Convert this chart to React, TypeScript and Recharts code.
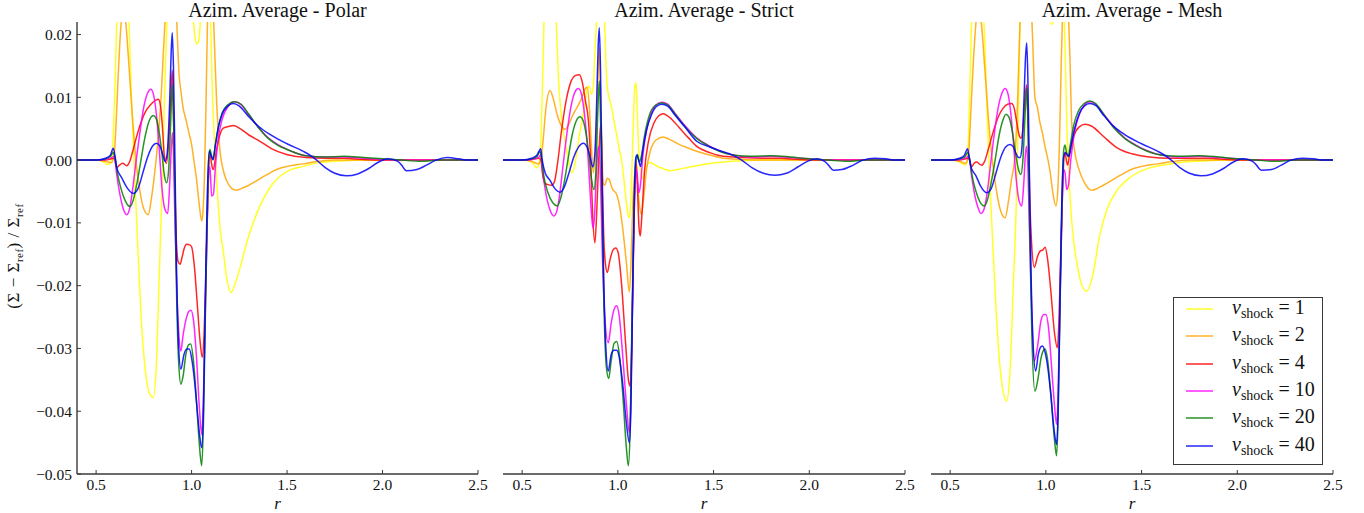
import React from 'react';
import { LineChart, Line, XAxis, YAxis, Legend } from 'recharts';

type Pt = [number, number];

const R_TICKS = [0.5, 1.0, 1.5, 2.0, 2.5];
const V_TICKS = [-0.05, -0.04, -0.03, -0.02, -0.01, 0, 0.01, 0.02];
const R_DOMAIN: [number, number] = [0.4, 2.5];
const V_DOMAIN: [number, number] = [-0.05, 0.022];
const NU = [1, 2, 4, 10, 20, 40];
const COLORS = ['#ffff00', '#ffa500', '#ff0000', '#ff00ff', '#008000', '#0000ff'];
const TITLES = ['Azim. Average - Polar', 'Azim. Average - Strict', 'Azim. Average - Mesh'];

// ---------------- Polar ----------------
const POLAR_NU1: Pt[] = [[0.4,0],[0.5,0],[0.54,-0.0003],[0.56,-0.0007],[0.575,-0.0005],[0.59,0.004],[0.6,0.013],[0.61,0.024],[0.63,0.034],[0.65,0.034],[0.67,0.024],[0.685,0.01],[0.7,-0.001],[0.72,-0.015],[0.74,-0.027],[0.76,-0.034],[0.78,-0.0372],[0.8,-0.0378],[0.815,-0.033],[0.83,-0.019],[0.845,-0.005],[0.86,0.012],[0.875,0.026],[0.9,0.035],[0.95,0.035],[0.99,0.03],[1.01,0.022],[1.02,0.0192],[1.03,0.0185],[1.04,0.0195],[1.05,0.024],[1.07,0.032],[1.09,0.03],[1.098,0.024],[1.108,0.012],[1.12,0.003],[1.135,-0.005],[1.15,-0.011],[1.166,-0.0145],[1.185,-0.019],[1.206,-0.0211],[1.23,-0.0195],[1.26,-0.0165],[1.29,-0.013],[1.34,-0.0086],[1.41,-0.0044],[1.5,-0.0018],[1.585,-0.001],[1.67,-0.0004],[1.8,-0.0001],[1.9,0],[2.5,0]];
const POLAR_NU2: Pt[] = [[0.4,0],[0.5,0],[0.55,-0.0002],[0.58,-0.0004],[0.595,0.001],[0.605,0.006],[0.615,0.013],[0.625,0.019],[0.635,0.0228],[0.645,0.0235],[0.655,0.022],[0.67,0.016],[0.69,0.007],[0.71,-0.0005],[0.73,-0.005],[0.75,-0.0078],[0.773,-0.0087],[0.79,-0.006],[0.805,-0.0025],[0.817,0.0009],[0.83,0.0055],[0.843,0.0115],[0.852,0.017],[0.861,0.0221],[0.875,0.028],[0.9,0.032],[0.915,0.028],[0.925,0.02],[0.935,0.0135],[0.945,0.0108],[0.956,0.0083],[0.97,0.0065],[0.985,0.0045],[1.0,0.0025],[1.012,0.0],[1.027,-0.0033],[1.04,-0.007],[1.053,-0.0097],[1.06,-0.008],[1.068,-0.002],[1.075,0.008],[1.082,0.02],[1.09,0.03],[1.1,0.033],[1.11,0.028],[1.118,0.02],[1.131,0.0094],[1.149,0.0014],[1.165,-0.0015],[1.184,-0.0033],[1.21,-0.0045],[1.236,-0.0048],[1.27,-0.0044],[1.3,-0.004],[1.34,-0.0033],[1.39,-0.0024],[1.445,-0.0015],[1.5,-0.001],[1.585,-0.0006],[1.67,-0.0002],[1.75,0],[2.5,0]];
const POLAR_NU4: Pt[] = [[0.4,0],[0.5,0],[0.55,0],[0.58,0.0002],[0.595,0.0003],[0.608,-0.0012],[0.622,-0.0008],[0.64,-0.0005],[0.66,-0.0009],[0.675,-0.0003],[0.69,0.0012],[0.71,0.0035],[0.735,0.006],[0.76,0.0078],[0.785,0.0088],[0.81,0.0095],[0.826,0.0097],[0.838,0.0085],[0.848,0.005],[0.858,0.0005],[0.868,-0.0005],[0.878,0.002],[0.89,0.009],[0.899,0.0143],[0.905,0.008],[0.912,-0.004],[0.92,-0.0125],[0.93,-0.0162],[0.94,-0.0166],[0.95,-0.0155],[0.962,-0.014],[0.975,-0.0134],[0.99,-0.0135],[1.0,-0.0138],[1.015,-0.017],[1.03,-0.023],[1.045,-0.029],[1.056,-0.0314],[1.065,-0.028],[1.075,-0.018],[1.085,-0.006],[1.096,0.0014],[1.104,-0.0005],[1.114,-0.0015],[1.13,0.0015],[1.15,0.0042],[1.166,0.0051],[1.2,0.0054],[1.22,0.0055],[1.25,0.0051],[1.3,0.004],[1.358,0.003],[1.42,0.0018],[1.498,0.0009],[1.6,0.0004],[1.7,0.0003],[1.8,0.0003],[1.9,0.0001],[2.0,0],[2.5,0]];
const POLAR_NU10: Pt[] = [[0.4,0],[0.5,0],[0.55,0.0001],[0.58,0.0004],[0.595,0.0006],[0.608,-0.0023],[0.625,-0.0055],[0.645,-0.008],[0.66,-0.0087],[0.675,-0.0078],[0.69,-0.005],[0.71,0.0],[0.73,0.0045],[0.75,0.0085],[0.77,0.0107],[0.787,0.0113],[0.8,0.0105],[0.815,0.0075],[0.83,0.002],[0.845,-0.0045],[0.86,-0.0078],[0.875,-0.0085],[0.885,-0.004],[0.893,0.0015],[0.9,0.0044],[0.906,0.0],[0.913,-0.01],[0.922,-0.02],[0.932,-0.027],[0.944,-0.0304],[0.955,-0.028],[0.97,-0.0255],[0.985,-0.0241],[0.997,-0.0239],[1.01,-0.0255],[1.025,-0.031],[1.04,-0.039],[1.053,-0.0437],[1.062,-0.038],[1.072,-0.024],[1.082,-0.01],[1.09,-0.002],[1.096,-0.001],[1.105,-0.0057],[1.114,-0.0055],[1.125,-0.001],[1.14,0.0035],[1.16,0.0065],[1.19,0.0085],[1.225,0.0093],[1.26,0.0088],[1.3,0.0072],[1.35,0.0052],[1.4,0.0036],[1.45,0.0025],[1.5,0.0017],[1.55,0.0011],[1.6,0.0007],[1.7,0.0005],[1.8,0.0005],[1.9,0.0003],[2.0,0.0001],[2.1,0],[2.5,0]];
const POLAR_NU20: Pt[] = [[0.4,0],[0.5,0],[0.55,0.0002],[0.575,0.0006],[0.59,0.0012],[0.6,0.0002],[0.613,-0.0023],[0.63,-0.0045],[0.65,-0.0063],[0.677,-0.0074],[0.695,-0.0063],[0.715,-0.0035],[0.735,0.0],[0.755,0.0035],[0.775,0.006],[0.8,0.0071],[0.815,0.0066],[0.83,0.0045],[0.845,0.001],[0.858,-0.0025],[0.87,-0.0036],[0.88,-0.0015],[0.89,0.0055],[0.899,0.012],[0.906,0.006],[0.914,-0.008],[0.922,-0.022],[0.932,-0.032],[0.944,-0.0357],[0.955,-0.0345],[0.97,-0.031],[0.985,-0.0294],[0.995,-0.0293],[1.01,-0.032],[1.025,-0.038],[1.04,-0.045],[1.053,-0.0487],[1.062,-0.042],[1.072,-0.025],[1.082,-0.009],[1.09,0.0005],[1.096,0.0017],[1.104,0.0008],[1.112,0.0],[1.125,0.0025],[1.14,0.0052],[1.16,0.0075],[1.19,0.0088],[1.225,0.0093],[1.26,0.0089],[1.3,0.0073],[1.35,0.0052],[1.4,0.0035],[1.45,0.0024],[1.5,0.0017],[1.55,0.0011],[1.6,0.0007],[1.7,0.0005],[1.8,0.0006],[1.9,0.0004],[2.0,0.0002],[2.1,0],[2.2,-0.0002],[2.3,0],[2.5,0]];
const POLAR_NU40: Pt[] = [[0.4,0],[0.5,0],[0.55,0.0003],[0.575,0.0008],[0.59,0.0019],[0.6,0.0005],[0.608,-0.0012],[0.634,-0.0028],[0.66,-0.0043],[0.695,-0.0053],[0.72,-0.0045],[0.745,-0.002],[0.77,0.0005],[0.795,0.0022],[0.817,0.0027],[0.835,0.0022],[0.85,0.0008],[0.861,-0.0002],[0.872,0.001],[0.885,0.009],[0.893,0.017],[0.899,0.0203],[0.905,0.015],[0.912,0.002],[0.92,-0.015],[0.93,-0.028],[0.944,-0.0333],[0.96,-0.031],[0.975,-0.0301],[0.988,-0.0301],[1.0,-0.0315],[1.015,-0.035],[1.03,-0.04],[1.045,-0.0445],[1.053,-0.0458],[1.062,-0.04],[1.072,-0.022],[1.082,-0.006],[1.093,0.0014],[1.102,0.0007],[1.112,0.0001],[1.125,0.0025],[1.14,0.0052],[1.16,0.0073],[1.19,0.0086],[1.218,0.009],[1.25,0.0086],[1.3,0.0069],[1.35,0.0054],[1.41,0.0041],[1.5,0.0026],[1.585,0.0014],[1.62,0.0008],[1.655,0],[1.7,-0.0012],[1.75,-0.0021],[1.81,-0.0025],[1.87,-0.0022],[1.93,-0.0013],[1.98,-0.0003],[2.03,0.0002],[2.08,-0.0002],[2.1,-0.0008],[2.125,-0.0017],[2.18,-0.0015],[2.23,-0.0008],[2.28,0],[2.34,0.0004],[2.4,0.0002],[2.45,0],[2.5,0]];

// ---------------- Strict ----------------
const STRICT_NU1: Pt[] = [[0.4,0],[0.5,0],[0.55,-0.0003],[0.576,-0.0012],[0.59,-0.0005],[0.6,0.005],[0.608,0.014],[0.614,0.022],[0.625,0.03],[0.645,0.034],[0.665,0.03],[0.678,0.022],[0.69,0.013],[0.703,0.0075],[0.715,0.0046],[0.73,0.002],[0.745,-0.0005],[0.759,-0.002],[0.772,-0.0012],[0.787,0.0015],[0.802,0.0045],[0.815,0.0065],[0.828,0.009],[0.837,0.011],[0.849,0.0118],[0.863,0.0105],[0.872,0.012],[0.88,0.017],[0.889,0.0225],[0.9,0.03],[0.915,0.032],[0.928,0.025],[0.937,0.016],[0.945,0.0115],[0.956,0.0098],[0.968,0.0083],[0.98,0.0062],[0.994,0.004],[1.007,0.0018],[1.02,0.0],[1.032,-0.0032],[1.042,-0.006],[1.052,-0.0085],[1.06,-0.0092],[1.067,-0.007],[1.075,0.0],[1.083,0.008],[1.09,0.012],[1.095,0.0123],[1.1,0.009],[1.107,0.003],[1.115,-0.001],[1.128,-0.003],[1.145,-0.0012],[1.168,-0.0004],[1.2,-0.0009],[1.24,-0.0014],[1.272,-0.0017],[1.31,-0.0015],[1.36,-0.0012],[1.447,-0.0007],[1.55,-0.0003],[1.65,-0.0001],[1.75,0],[2.5,0]];
const STRICT_NU2: Pt[] = [[0.4,0],[0.5,0],[0.55,-0.0002],[0.585,-0.0006],[0.6,0.0005],[0.612,0.004],[0.625,0.0085],[0.646,0.0111],[0.665,0.0095],[0.685,0.007],[0.705,0.0055],[0.724,0.0049],[0.745,0.0058],[0.765,0.0072],[0.785,0.0083],[0.81,0.0098],[0.828,0.0113],[0.84,0.0116],[0.852,0.008],[0.862,0.002],[0.872,-0.002],[0.885,0.003],[0.895,0.012],[0.903,0.018],[0.91,0.01],[0.918,0.0],[0.926,-0.004],[0.933,-0.0039],[0.945,-0.0029],[0.955,-0.0031],[0.97,-0.0045],[0.994,-0.0055],[1.01,-0.0075],[1.029,-0.0118],[1.045,-0.0165],[1.06,-0.021],[1.068,-0.017],[1.077,-0.008],[1.088,-0.002],[1.098,-0.0023],[1.11,-0.0065],[1.123,-0.0087],[1.135,-0.006],[1.15,-0.0015],[1.17,0.0015],[1.2,0.0032],[1.237,0.0037],[1.27,0.0033],[1.32,0.0025],[1.37,0.0019],[1.412,0.0014],[1.48,0.0008],[1.55,0.0003],[1.65,0.0001],[1.75,0],[2.5,0]];
const STRICT_NU4: Pt[] = [[0.4,0],[0.5,0],[0.55,0.0001],[0.585,0.0003],[0.597,0.0001],[0.608,-0.0025],[0.62,-0.0037],[0.635,-0.0039],[0.654,-0.004],[0.668,-0.0035],[0.685,-0.0005],[0.705,0.0045],[0.73,0.0095],[0.755,0.0125],[0.78,0.0135],[0.799,0.0136],[0.815,0.0123],[0.83,0.0095],[0.846,0.0063],[0.858,0.0],[0.868,-0.0085],[0.88,-0.0132],[0.89,-0.008],[0.9,0.0],[0.907,0.0045],[0.912,0.0057],[0.918,-0.002],[0.926,-0.012],[0.935,-0.0165],[0.945,-0.0179],[0.958,-0.016],[0.975,-0.0143],[0.989,-0.014],[1.002,-0.0148],[1.02,-0.02],[1.04,-0.029],[1.055,-0.035],[1.064,-0.036],[1.072,-0.03],[1.08,-0.017],[1.088,-0.005],[1.095,0.0],[1.102,-0.004],[1.11,-0.0105],[1.117,-0.0121],[1.125,-0.009],[1.14,-0.0015],[1.16,0.003],[1.19,0.006],[1.215,0.0071],[1.237,0.0074],[1.27,0.0068],[1.32,0.0052],[1.37,0.0035],[1.412,0.0022],[1.48,0.0012],[1.55,0.0006],[1.65,0.0004],[1.75,0.0003],[1.85,0.0003],[1.95,0.0001],[2.05,0],[2.5,0]];
const STRICT_NU10: Pt[] = [[0.4,0],[0.5,0],[0.55,0.0001],[0.585,0.0004],[0.597,0.0008],[0.608,-0.002],[0.625,-0.0055],[0.645,-0.0079],[0.666,-0.0089],[0.682,-0.008],[0.698,-0.005],[0.715,-0.0005],[0.735,0.0045],[0.755,0.0085],[0.775,0.0108],[0.794,0.0114],[0.81,0.0105],[0.825,0.0075],[0.84,0.0025],[0.852,-0.0035],[0.862,-0.0085],[0.87,-0.0108],[0.878,-0.009],[0.888,-0.002],[0.897,0.0018],[0.903,0.0022],[0.91,-0.004],[0.918,-0.014],[0.93,-0.024],[0.95,-0.0291],[0.965,-0.026],[0.98,-0.0238],[0.994,-0.0232],[1.008,-0.025],[1.025,-0.031],[1.045,-0.039],[1.06,-0.0434],[1.068,-0.038],[1.076,-0.024],[1.085,-0.009],[1.094,-0.0015],[1.1,-0.002],[1.11,-0.0052],[1.118,-0.004],[1.13,0.0005],[1.15,0.0048],[1.175,0.0075],[1.2,0.0088],[1.23,0.0092],[1.26,0.0089],[1.3,0.0074],[1.35,0.0055],[1.41,0.0036],[1.47,0.0024],[1.53,0.0015],[1.6,0.0008],[1.7,0.0005],[1.8,0.0006],[1.9,0.0004],[2.0,0.0002],[2.1,0],[2.5,0]];
const STRICT_NU20: Pt[] = [[0.4,0],[0.5,0],[0.55,0.0002],[0.578,0.0006],[0.593,0.0014],[0.602,0.0002],[0.613,-0.0025],[0.635,-0.0052],[0.66,-0.0068],[0.684,-0.0073],[0.7,-0.0062],[0.72,-0.0035],[0.74,0.0002],[0.76,0.0038],[0.782,0.0062],[0.802,0.0069],[0.82,0.0062],[0.835,0.004],[0.85,0.0005],[0.862,-0.003],[0.875,-0.0047],[0.885,-0.002],[0.895,0.0075],[0.903,0.0126],[0.91,0.006],[0.918,-0.008],[0.928,-0.024],[0.94,-0.033],[0.952,-0.0348],[0.965,-0.032],[0.98,-0.0292],[0.994,-0.0289],[1.008,-0.031],[1.025,-0.037],[1.045,-0.046],[1.055,-0.0487],[1.064,-0.043],[1.073,-0.027],[1.083,-0.01],[1.094,0.0],[1.102,0.0009],[1.112,-0.0003],[1.122,0.0005],[1.14,0.004],[1.165,0.0072],[1.195,0.0087],[1.229,0.0091],[1.26,0.0088],[1.3,0.0073],[1.35,0.0053],[1.41,0.0035],[1.47,0.0023],[1.53,0.0014],[1.6,0.0008],[1.7,0.0006],[1.8,0.0007],[1.9,0.0005],[2.0,0.0002],[2.1,0],[2.2,-0.0002],[2.3,0],[2.5,0]];
const STRICT_NU40: Pt[] = [[0.4,0],[0.5,0],[0.55,0.0003],[0.578,0.0008],[0.597,0.0018],[0.605,0.0],[0.62,-0.002],[0.645,-0.0032],[0.67,-0.0045],[0.698,-0.0051],[0.72,-0.0043],[0.745,-0.002],[0.77,0.0005],[0.795,0.0021],[0.82,0.0027],[0.84,0.002],[0.855,0.0005],[0.869,-0.0011],[0.88,0.001],[0.89,0.01],[0.897,0.018],[0.903,0.0211],[0.909,0.015],[0.916,0.0],[0.925,-0.017],[0.936,-0.029],[0.95,-0.0336],[0.965,-0.031],[0.98,-0.0303],[0.994,-0.0303],[1.008,-0.0315],[1.025,-0.0355],[1.045,-0.042],[1.06,-0.045],[1.068,-0.04],[1.076,-0.024],[1.085,-0.007],[1.094,0.0004],[1.1,0.0008],[1.108,0.0],[1.119,-0.001],[1.13,0.0015],[1.15,0.0048],[1.175,0.0072],[1.2,0.0085],[1.229,0.0089],[1.26,0.0086],[1.3,0.0071],[1.35,0.0053],[1.412,0.003],[1.48,0.0021],[1.534,0.0015],[1.6,0.0008],[1.647,0],[1.7,-0.0012],[1.76,-0.0021],[1.821,-0.0024],[1.88,-0.0021],[1.94,-0.0011],[1.99,-0.0002],[2.04,0.0002],[2.08,-0.0002],[2.1,-0.0008],[2.126,-0.0016],[2.17,-0.0015],[2.23,-0.0008],[2.28,0],[2.34,0.0003],[2.4,0.0002],[2.45,0],[2.5,0]];

// ---------------- Mesh ----------------
const MESH_NU1: Pt[] = [[0.4,0],[0.5,0],[0.55,-0.0003],[0.58,-0.0008],[0.59,0.0],[0.6,0.008],[0.61,0.02],[0.625,0.03],[0.645,0.034],[0.665,0.028],[0.682,0.018],[0.695,0.006],[0.705,-0.002],[0.717,-0.0097],[0.735,-0.021],[0.755,-0.031],[0.775,-0.0365],[0.795,-0.0384],[0.812,-0.034],[0.83,-0.02],[0.848,-0.0044],[0.858,0.01],[0.865,0.022],[0.88,0.032],[0.93,0.035],[0.98,0.03],[1.01,0.0235],[1.03,0.0216],[1.05,0.0235],[1.07,0.03],[1.09,0.028],[1.097,0.022],[1.109,0.0062],[1.12,-0.002],[1.135,-0.0097],[1.15,-0.014],[1.17,-0.0177],[1.19,-0.0201],[1.213,-0.0209],[1.24,-0.019],[1.283,-0.0118],[1.32,-0.0078],[1.37,-0.0049],[1.43,-0.003],[1.492,-0.0018],[1.56,-0.0011],[1.63,-0.0007],[1.72,-0.0003],[1.85,-0.0001],[1.95,0],[2.5,0]];
const MESH_NU2: Pt[] = [[0.4,0],[0.5,0],[0.55,-0.0002],[0.58,-0.0005],[0.595,0.0005],[0.604,0.005],[0.615,0.012],[0.628,0.019],[0.64,0.0232],[0.65,0.0236],[0.662,0.022],[0.682,0.0142],[0.7,0.0065],[0.717,0.0009],[0.74,-0.0045],[0.765,-0.0082],[0.787,-0.0092],[0.805,-0.0065],[0.82,-0.0032],[0.839,0.0009],[0.852,0.009],[0.865,0.022],[0.88,0.03],[0.91,0.032],[0.93,0.02],[0.943,0.0099],[0.955,0.0085],[0.969,0.006],[0.983,0.0042],[0.996,0.0021],[1.01,0.0002],[1.022,-0.0018],[1.038,-0.0055],[1.053,-0.0073],[1.062,-0.005],[1.072,0.004],[1.08,0.015],[1.088,0.024],[1.1,0.031],[1.115,0.026],[1.126,0.016],[1.135,0.006],[1.15,0.0015],[1.17,-0.0012],[1.2,-0.0035],[1.23,-0.0047],[1.24,-0.0048],[1.27,-0.0045],[1.3,-0.004],[1.34,-0.0033],[1.39,-0.0024],[1.445,-0.0015],[1.5,-0.001],[1.585,-0.0006],[1.67,-0.0002],[1.75,0],[2.5,0]];
const MESH_NU4: Pt[] = [[0.4,0],[0.5,0],[0.55,0],[0.58,0.0002],[0.597,0.0003],[0.612,-0.0011],[0.625,-0.0005],[0.639,-0.0003],[0.652,-0.0006],[0.665,-0.0008],[0.68,-0.0002],[0.7,0.0018],[0.725,0.0045],[0.75,0.0068],[0.775,0.0082],[0.8,0.0089],[0.821,0.009],[0.835,0.0082],[0.848,0.006],[0.86,0.004],[0.87,0.0035],[0.88,0.005],[0.89,0.0095],[0.9,0.012],[0.907,0.006],[0.915,-0.005],[0.925,-0.013],[0.94,-0.0171],[0.955,-0.0155],[0.97,-0.0145],[0.985,-0.0143],[0.996,-0.0139],[1.01,-0.016],[1.025,-0.0205],[1.045,-0.0275],[1.06,-0.0299],[1.068,-0.026],[1.077,-0.016],[1.087,-0.005],[1.1,0.0012],[1.108,-0.0002],[1.114,-0.0008],[1.125,0.0012],[1.145,0.0038],[1.175,0.0053],[1.205,0.0057],[1.24,0.0054],[1.3,0.0038],[1.37,0.002],[1.45,0.001],[1.54,0.0005],[1.65,0.0003],[1.75,0.0003],[1.85,0.0003],[1.95,0.0001],[2.05,0],[2.5,0]];
const MESH_NU10: Pt[] = [[0.4,0],[0.5,0],[0.55,0.0001],[0.585,0.0004],[0.597,0.0007],[0.612,-0.0025],[0.63,-0.0058],[0.645,-0.0075],[0.661,-0.0085],[0.675,-0.008],[0.692,-0.0055],[0.71,-0.001],[0.73,0.004],[0.75,0.0082],[0.77,0.0106],[0.787,0.0114],[0.8,0.0108],[0.815,0.008],[0.83,0.003],[0.845,-0.003],[0.86,-0.0065],[0.874,-0.0073],[0.884,-0.004],[0.893,0.0008],[0.9,0.0022],[0.907,-0.002],[0.915,-0.012],[0.927,-0.025],[0.94,-0.032],[0.955,-0.03],[0.975,-0.0255],[0.99,-0.0246],[1.0,-0.0246],[1.015,-0.027],[1.03,-0.033],[1.045,-0.039],[1.056,-0.0421],[1.064,-0.037],[1.073,-0.024],[1.083,-0.01],[1.093,-0.0015],[1.1,-0.002],[1.109,-0.0047],[1.118,-0.004],[1.13,0.0],[1.15,0.0045],[1.175,0.0073],[1.2,0.0087],[1.23,0.0093],[1.26,0.0089],[1.3,0.0074],[1.35,0.0055],[1.41,0.0036],[1.47,0.0024],[1.53,0.0015],[1.6,0.0008],[1.7,0.0005],[1.8,0.0006],[1.9,0.0004],[2.0,0.0002],[2.1,0],[2.5,0]];
const MESH_NU20: Pt[] = [[0.4,0],[0.5,0],[0.55,0.0002],[0.578,0.0006],[0.592,0.0012],[0.602,0.0002],[0.615,-0.0025],[0.635,-0.005],[0.655,-0.0066],[0.679,-0.0073],[0.695,-0.0063],[0.715,-0.0035],[0.735,0.0],[0.755,0.0038],[0.775,0.0063],[0.792,0.0073],[0.808,0.0068],[0.825,0.0045],[0.842,0.001],[0.857,-0.0015],[0.87,-0.0023],[0.88,0.0],[0.892,0.0075],[0.9,0.0115],[0.907,0.005],[0.915,-0.01],[0.927,-0.028],[0.943,-0.0368],[0.958,-0.035],[0.975,-0.0315],[0.99,-0.0302],[0.996,-0.0301],[1.01,-0.032],[1.025,-0.037],[1.045,-0.0445],[1.056,-0.0471],[1.064,-0.041],[1.073,-0.025],[1.083,-0.009],[1.093,0.0015],[1.1,0.0024],[1.108,0.0012],[1.116,0.0006],[1.128,0.0025],[1.145,0.0055],[1.17,0.0078],[1.2,0.009],[1.23,0.0094],[1.26,0.009],[1.3,0.0074],[1.35,0.0053],[1.41,0.0035],[1.47,0.0023],[1.53,0.0014],[1.6,0.0008],[1.7,0.0006],[1.8,0.0007],[1.9,0.0005],[2.0,0.0002],[2.1,0],[2.2,-0.0002],[2.3,0],[2.5,0]];
const MESH_NU40: Pt[] = [[0.4,0],[0.5,0],[0.55,0.0003],[0.575,0.0008],[0.591,0.0018],[0.6,0.0003],[0.61,-0.0012],[0.635,-0.0025],[0.66,-0.0042],[0.691,-0.0052],[0.715,-0.0045],[0.74,-0.002],[0.765,0.0005],[0.79,0.0021],[0.813,0.0025],[0.83,0.0021],[0.845,0.001],[0.857,0.0004],[0.865,0.0004],[0.875,0.002],[0.885,0.009],[0.894,0.0165],[0.9,0.0187],[0.906,0.013],[0.913,0.0],[0.922,-0.017],[0.933,-0.029],[0.947,-0.0336],[0.96,-0.031],[0.975,-0.0297],[0.983,-0.0296],[0.995,-0.0305],[1.01,-0.033],[1.025,-0.037],[1.045,-0.0435],[1.056,-0.0453],[1.064,-0.04],[1.073,-0.024],[1.083,-0.007],[1.093,0.0005],[1.103,0.0012],[1.112,0.0008],[1.121,0.0006],[1.133,0.0025],[1.15,0.005],[1.175,0.0074],[1.2,0.0086],[1.23,0.009],[1.26,0.0087],[1.3,0.0072],[1.35,0.0055],[1.41,0.0041],[1.5,0.0026],[1.585,0.0014],[1.62,0.0008],[1.655,0],[1.7,-0.0012],[1.75,-0.0021],[1.81,-0.0025],[1.87,-0.0022],[1.93,-0.0013],[1.98,-0.0003],[2.03,0.0002],[2.08,-0.0002],[2.1,-0.0008],[2.125,-0.0016],[2.18,-0.0015],[2.23,-0.0008],[2.28,0],[2.34,0.0003],[2.4,0.0002],[2.45,0],[2.5,0]];

const POLAR = [POLAR_NU1, POLAR_NU2, POLAR_NU4, POLAR_NU10, POLAR_NU20, POLAR_NU40];
const STRICT = [STRICT_NU1, STRICT_NU2, STRICT_NU4, STRICT_NU10, STRICT_NU20, STRICT_NU40];
const MESH = [MESH_NU1, MESH_NU2, MESH_NU4, MESH_NU10, MESH_NU20, MESH_NU40];

const FONT = '"Liberation Serif", "Times New Roman", "DejaVu Serif", serif';
const FRAME = '#3a3a3a';
const H = 513;

const toRows = (pts: Pt[]) => pts.map(([r, v]) => ({ r, v }));
const fmtV = (v: number) => {
  if (Math.abs(v) < 1e-12) return '0.00';
  return (v < 0 ? '\u2212' : '') + Math.abs(v).toFixed(2);
};
const fmtR = (r: number) => r.toFixed(1);

const renderLegend = () => (
  <div style={{ position: 'relative', width: 150, height: 168, border: `1.5px solid ${FRAME}`, background: '#fff', boxSizing: 'border-box', fontFamily: FONT, color: '#111' }}>
    {NU.map((nu, i) => (
      <div key={nu} style={{ position: 'absolute', left: 0, top: 11 + i * 27.3 - 10, height: 20, width: 148 }}>
        <svg width={30} height={20} style={{ position: 'absolute', left: 12, top: 0 }}>
          <line x1={0} x2={27} y1={10} y2={10} stroke={COLORS[i]} strokeWidth={1.5} strokeOpacity={0.85} />
        </svg>
        <span style={{ position: 'absolute', left: 58, top: -3, fontSize: 20, whiteSpace: 'nowrap', lineHeight: '22px' }}>
          <i>ν</i>
          <span style={{ fontSize: 14, position: 'relative', top: 4 }}>shock</span>
          {' = '}{nu}
        </span>
      </div>
    ))}
  </div>
);

interface PanelProps {
  idx: number;
  left: number;
  width: number;
  margin: { top: number; right: number; bottom: number; left: number };
  yAxisWidth: number;
  series: Pt[][];
  showYLabels: boolean;
  legend?: boolean;
}

function Panel({ idx, left, width, margin, yAxisWidth, series, showYLabels, legend }: PanelProps) {
  const plotLeft = margin.left + yAxisWidth;
  const plotRight = width - margin.right;
  const plotW = plotRight - plotLeft;
  const axisCommon = { stroke: FRAME, tickLine: { stroke: FRAME, strokeWidth: 1 }, axisLine: { stroke: FRAME, strokeWidth: 1.4 } };
  return (
    <div style={{ position: 'absolute', left, top: 0, width, height: H }}>
      <div style={{ position: 'absolute', left: plotLeft, width: plotW, top: 0, textAlign: 'center', fontFamily: FONT, fontSize: 20, lineHeight: '20px', color: '#111', whiteSpace: 'nowrap' }}>
        {TITLES[idx]}
      </div>
      <LineChart width={width} height={H} margin={margin}>
        <XAxis xAxisId="b" type="number" dataKey="r" domain={R_DOMAIN} ticks={R_TICKS} allowDataOverflow interval={0}
          orientation="bottom" height={30} tickSize={-4} tickMargin={9} tickFormatter={fmtR}
          tick={{ fill: '#111', fontSize: 15.5, fontFamily: FONT }} {...axisCommon} />
        <XAxis xAxisId="t" type="number" dataKey="r" domain={R_DOMAIN} ticks={R_TICKS} allowDataOverflow interval={0}
          orientation="top" height={0} tickSize={-4} tickFormatter={() => ''} tick={{ fontSize: 1 }} {...axisCommon} />
        <YAxis yAxisId="l" type="number" domain={V_DOMAIN} ticks={V_TICKS} allowDataOverflow interval={0}
          orientation="left" width={yAxisWidth} tickSize={-4} tickMargin={9}
          tickFormatter={showYLabels ? fmtV : () => ''}
          tick={{ fill: '#111', fontSize: 15.5, fontFamily: FONT }} {...axisCommon} />
        <YAxis yAxisId="rt" type="number" domain={V_DOMAIN} ticks={V_TICKS} allowDataOverflow interval={0}
          orientation="right" width={0} tickSize={-4} tickFormatter={() => ''} tick={{ fontSize: 1 }} {...axisCommon} />
        {series.map((pts, i) => (
          <Line key={i} xAxisId="b" yAxisId="l" data={toRows(pts)} dataKey="v" name={String(NU[i])}
            type="monotone" stroke={COLORS[i]} strokeWidth={1.5} strokeOpacity={0.85} dot={false}
            activeDot={false} isAnimationActive={false} />
        ))}
        {legend ? (
          <Legend layout="horizontal" verticalAlign="middle" align="center" content={renderLegend}
            wrapperStyle={{ left: 265, top: 297, width: 150, height: 168 }} />
        ) : null}
      </LineChart>
      <div style={{ position: 'absolute', left: plotLeft, width: plotW, top: 494, textAlign: 'center', fontFamily: FONT, fontSize: 17, lineHeight: '20px', fontStyle: 'italic', color: '#111' }}>
        r
      </div>
      {showYLabels ? (
        <div style={{ position: 'absolute', left: 14 - 110, top: 256 - 10, width: 220, height: 20, lineHeight: '20px', textAlign: 'center', transform: 'rotate(-90deg)', fontFamily: FONT, fontSize: 17, color: '#111', whiteSpace: 'nowrap', letterSpacing: 0.5 }}>
          (Σ − Σ<sub style={{ fontSize: 11 }}>ref</sub>) / Σ<sub style={{ fontSize: 11 }}>ref</sub>
        </div>
      ) : null}
    </div>
  );
}

export default function App() {
  return (
    <div style={{ position: 'absolute', left: 0, top: 0, width: 1364, height: H, background: '#fff', overflow: 'hidden' }}>
      <Panel idx={0} left={0} width={495} margin={{ top: 22, right: 17, bottom: 9, left: 37 }} yAxisWidth={40} series={POLAR} showYLabels />
      <Panel idx={1} left={480} width={440} margin={{ top: 22, right: 15, bottom: 9, left: 23 }} yAxisWidth={0} series={STRICT} showYLabels={false} />
      <Panel idx={2} left={908} width={456} margin={{ top: 22, right: 31, bottom: 9, left: 23 }} yAxisWidth={0} series={MESH} showYLabels={false} legend />
    </div>
  );
}
